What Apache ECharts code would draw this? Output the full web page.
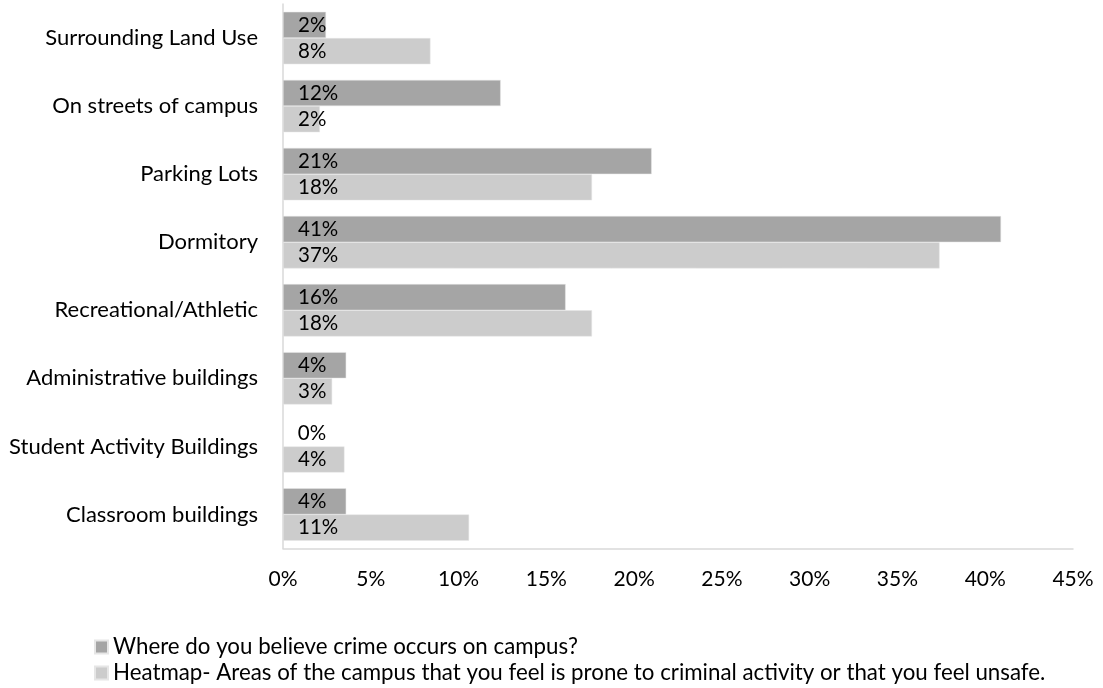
<!DOCTYPE html>
<html>
<head>
<meta charset="utf-8">
<script src="https://cdn.jsdelivr.net/npm/echarts@6/dist/echarts.min.js"></script>
<style>
html,body{margin:0;padding:0;background:#fff;}
#chart{width:1103px;height:688px;}
</style>
</head>
<body>
<div id="chart"></div>
<script>
const categories = ["Surrounding Land Use","On streets of campus","Parking Lots","Dormitory","Recreational/Athletic","Administrative buildings","Student Activity Buildings","Classroom buildings"];
const seriesNames = ["Where do you believe crime occurs on campus?","Heatmap- Areas of the campus that you feel is prone to criminal activity or that you feel unsafe."];
const believeValues = [2.45, 12.4, 21.0, 40.9, 16.1, 3.6, 0, 3.6];
const heatmapValues = [8.4, 2.1, 17.6, 37.4, 17.6, 2.8, 3.5, 10.6];
const xTicks = [0,5,10,15,20,25,30,35,40,45];

const FONT = 'Lato';
const chart = echarts.init(document.getElementById('chart'), null, {renderer:'canvas'});
const labelCfg = {
  show:true, position:'insideLeft', distance:15,
  formatter: p => Math.round(p.value) + '%',
  color:'#000', fontFamily:FONT, fontSize:20.5
};
const legendBase = {
  orient:'horizontal', left:89, itemWidth:13, itemHeight:13, itemGap:8,
  icon:'rect',
  textStyle:{color:'#000', fontSize:22.3, fontFamily:FONT}
};
chart.setOption({
  animation:false,
  textStyle:{fontFamily:FONT},
  grid:{left:283, right:30, top:4, bottom:139.5, containLabel:false},
  legend:[
    Object.assign({}, legendBase, {top:631, data:[seriesNames[0]]}),
    Object.assign({}, legendBase, {top:657, data:[seriesNames[1]]})
  ],
  xAxis:{
    type:'value', min:xTicks[0], max:xTicks[xTicks.length-1], interval:5,
    axisLine:{show:true, lineStyle:{color:'#d9d9d9', width:1.5}},
    axisTick:{show:false}, splitLine:{show:false},
    axisLabel:{formatter:'{value}%', color:'#000', fontSize:21, fontFamily:FONT, margin:20}
  },
  yAxis:{
    type:'category', data:categories, inverse:true,
    axisLine:{show:true, lineStyle:{color:'#d9d9d9', width:1.5}},
    axisTick:{show:false},
    axisLabel:{color:'#000', fontSize:22, fontFamily:FONT, margin:25}
  },
  series:[
    {name:seriesNames[0], type:'bar', data:believeValues, barGap:'0%', barCategoryGap:'23%',
     itemStyle:{color:'#a5a5a5', borderColor:'#e6e6e6', borderWidth:0.5}, label:labelCfg},
    {name:seriesNames[1], type:'bar', data:heatmapValues, barGap:'0%', barCategoryGap:'23%',
     itemStyle:{color:'#cccccc', borderColor:'#e6e6e6', borderWidth:0.5}, label:labelCfg}
  ]
});
</script>
</body>
</html>
